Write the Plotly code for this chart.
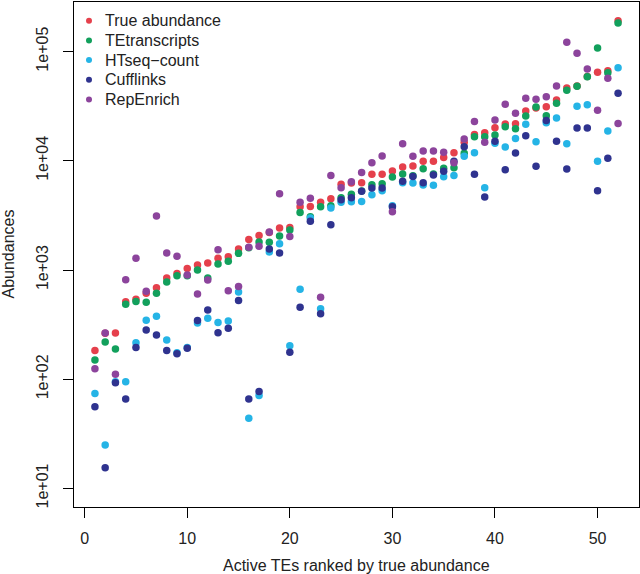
import plotly.graph_objects as go

rank = list(range(1, 53))

true_abundance = [183, 263, 265, 513, 539, 612, 688, 845, 930, 1035,
                  1111, 1159, 1279, 1325, 1557, 1900, 2070, 2200, 2420, 2450,
                  3800, 3820, 4170, 4500, 6100, 6270, 6300, 7520, 7550, 8070,
                  8770, 8960, 9890, 9900, 10700, 11850, 14760, 17400, 18100, 20100,
                  21700, 21880, 28580, 30500, 31300, 36060, 46450, 48500, 59000, 64600,
                  66800, 191900]

tetranscripts = [150, 219, 189, 485, 516, 506, 612, 776, 887, 888,
                 1000, 845, 1135, 1200, 1421, 1600, 1803, 1793, 2050, 2325,
                 3360, 3080, 3800, 3870, 4600, 4930, 5300, 6040, 6160, 7110,
                 7570, 7300, 8470, 7570, 8550, 8650, 11700, 16600, 16600, 17200,
                 20540, 19680, 25700, 31100, 25880, 33600, 44170, 48100, 58900, 107900,
                 64100, 182700]

htseq_count = [74, 25, 95, 95, 216, 347, 377, 229, 175, 195,
               327, 361, 330, 341, 630, 44, 71, 1462, 1742, 203,
               665, 3000, 443, 3700, 4170, 4220, 4250, 4900, 5320, 3880,
               6300, 6270, 6000, 5960, 7130, 7330, 11000, 11830, 5650, 14450,
               13360, 15960, 21580, 14970, 22340, 24660, 14360, 31550, 32670, 9930,
               18750, 71300]

cufflinks = [56, 15.5, 93, 66, 195, 283, 254, 183, 171, 192,
             344, 430, 267, 293, 527, 66, 77, 1557, 1432, 177,
             455, 2800, 398, 2590, 4400, 4590, 5250, 5640, 5640, 3800,
             6490, 7200, 6310, 7410, 8030, 9890, 13460, 7530, 4670, 15070,
             8260, 11800, 17000, 8900, 23340, 15070, 8400, 19950, 19950, 5330,
             10550, 41500]

repenrich = [125, 265, 111, 816, 1279, 638, 3126, 1435, 1340, 900,
             603, 809, 1535, 647, 708, 1614, 1648, 2229, 5000, 2032,
             4170, 4550, 562, 7350, 5670, 6440, 7830, 9610, 11070, 3420,
             14360, 10990, 12300, 12300, 11970, 9600, 15850, 22900, 14760, 23660,
             32900, 27200, 37330, 36560, 38620, 48400, 121600, 96400, 69300, 29000,
             56900, 21900]

series_names = ["True abundance", "TEtranscripts", "HTseq\u2212count", "Cufflinks", "RepEnrich"]
series_values = [true_abundance, tetranscripts, htseq_count, cufflinks, repenrich]
series_colors = ["#E5404C", "#12A05C", "#25B4E6", "#2F338F", "#8C449C"]

x_ticks = [0, 10, 20, 30, 40, 50]
y_ticks = [10, 100, 1000, 10000, 100000]
y_tick_labels = ["1e+01", "1e+02", "1e+03", "1e+04", "1e+05"]

fig = go.Figure()
for name, vals, col in zip(series_names, series_values, series_colors):
    fig.add_trace(go.Scatter(
        x=rank, y=vals, mode="markers", name=name,
        marker=dict(color=col, size=7.5, line=dict(width=0)),
    ))

font_family = "Liberation Sans, Arial, Helvetica, sans-serif"

# plot area in pixels
PL, PR, PT, PB = 74, 639, 2, 507
PW, PH = PR - PL, PB - PT

def px_x(x):
    return (x - PL) / PW

def px_y(y):
    return (PB - y) / PH

# manual legend (R-style compact spacing)
annotations = []
shapes = []
leg_dot_x, leg_text_x, leg_y0, leg_dy = 89, 103, 20.7, 19.7
for k, (name, col) in enumerate(zip(series_names, series_colors)):
    yy = px_y(leg_y0 + k * leg_dy)
    shapes.append(dict(type="circle", xref="paper", yref="paper",
                       xsizemode="pixel", ysizemode="pixel",
                       xanchor=px_x(leg_dot_x), yanchor=yy,
                       x0=-3, x1=3, y0=-3, y1=3,
                       fillcolor=col, line=dict(width=0)))
    annotations.append(dict(text=name, xref="paper", yref="paper",
                            x=px_x(leg_text_x), y=yy, xanchor="left", yanchor="middle",
                            showarrow=False, font=dict(size=16)))

annotations += [
    dict(text="Active TEs ranked by true abundance", xref="paper", yref="paper",
         x=0.5, y=px_y(565), xanchor="center", yanchor="middle", showarrow=False,
         font=dict(size=16)),
    dict(text="Abundances", xref="paper", yref="paper",
         x=px_x(8), y=0.5, xanchor="center", yanchor="middle", showarrow=False,
         textangle=-90, font=dict(size=16)),
]

fig.update_layout(
    width=640, height=574,
    margin=dict(l=PL, r=640 - PR, t=PT, b=574 - PB),
    paper_bgcolor="white", plot_bgcolor="white",
    font=dict(family=font_family, size=16, color="#222222"),
    showlegend=False,
    annotations=annotations,
    shapes=shapes,
)

fig.update_xaxes(
    range=[-1.04, 54.04], tickvals=x_ticks, ticks="outside", ticklen=10,
    tickwidth=1.2, tickcolor="black", showline=True, linecolor="black",
    linewidth=1.2, mirror=True, showgrid=False, zeroline=False,
    ticklabelstandoff=7,
)
fig.update_yaxes(
    type="log", range=[0.83, 5.454], tickvals=y_ticks, ticktext=y_tick_labels,
    tickangle=-90, ticks="outside", ticklen=10, tickwidth=1.2, tickcolor="black",
    showline=True, linecolor="black", linewidth=1.2, mirror=True,
    showgrid=False, zeroline=False, ticklabelstandoff=9,
)

fig.write_html(
    "out.html",
    config={"displayModeBar": False},
    post_script="document.body.style.margin='0px';document.body.style.overflow='hidden';",
)
